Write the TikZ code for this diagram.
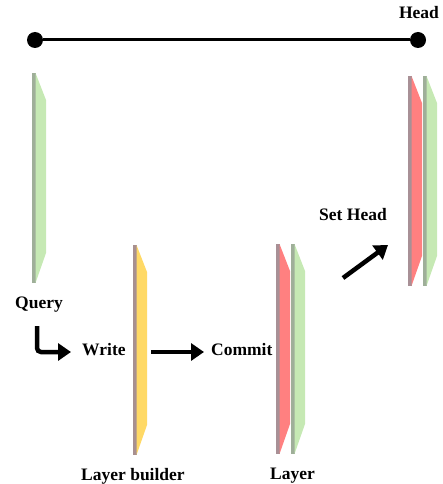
\documentclass[tikz,border=0pt]{standalone}
\usepackage{fontspec}
\setmainfont{Liberation Serif}
\usetikzlibrary{arrows.meta}
\definecolor{plgreen}{HTML}{C6E9B4}
\definecolor{plgreenedge}{HTML}{9FAF99}
\definecolor{plred}{HTML}{FF8080}
\definecolor{plrededge}{HTML}{A89096}
\definecolor{plyellow}{HTML}{FFD966}
\definecolor{plyellowedge}{HTML}{A89090}
\newcommand\drawplate[4]{%
  \fill[#4] (#1,#2) rectangle ++(3.5,210);
  \fill[#3] (#1+3.5,#2) -- (#1+14,#2+27) -- (#1+14,#2+180) -- (#1+3.5,#2+210) -- cycle;
}
\tikzset{
  lbl/.style={font=\bfseries\fontsize{17.5}{20}\selectfont, inner sep=0pt, anchor=base west},
  bigarrow/.style={line width=4.5pt, -{Triangle[length=13pt,width=17pt]}},
  dot/.style={circle, fill=black, minimum size=16pt, inner sep=0pt},
}
\begin{document}
\begin{tikzpicture}[x=1pt,y=-1pt]
\useasboundingbox (0,0) rectangle (442,484);
% timeline
\node[dot] (d1) at (35,40) {};
\node[dot] (d2) at (418,40) {};
\draw[line width=3pt] (d1) -- (d2);
\node[lbl, anchor=base] (head) at (419,18.5) {Head};
% plates
\drawplate{32}{73}{plgreen}{plgreenedge}
\drawplate{133}{245}{plyellow}{plyellowedge}
\drawplate{276}{244}{plred}{plrededge}
\drawplate{291}{244}{plgreen}{plgreenedge}
\drawplate{408}{76}{plred}{plrededge}
\drawplate{423}{76}{plgreen}{plgreenedge}
% labels
\node[lbl, anchor=base] (query) at (39,308) {Query};
\node[lbl] (write) at (82,355) {Write};
\node[lbl] (commit) at (211,355) {Commit};
\node[lbl] (builder) at (81,480.5) {Layer builder};
\node[lbl] (layer) at (270,479.5) {Layer};
\node[lbl] (sethead) at (319,220) {Set Head};
% arrows
\coordinate (e1) at (37,326);
\coordinate (e2) at (71,352);
\draw[bigarrow, rounded corners=4pt] (e1) |- (e2);
\coordinate (c1) at (151,352);
\coordinate (c2) at (204,352);
\draw[bigarrow] (c1) -- (c2);
\coordinate (s1) at (343,278);
\coordinate (s2) at (388,245);
\draw[bigarrow] (s1) -- (s2);
\end{tikzpicture}
\end{document}
